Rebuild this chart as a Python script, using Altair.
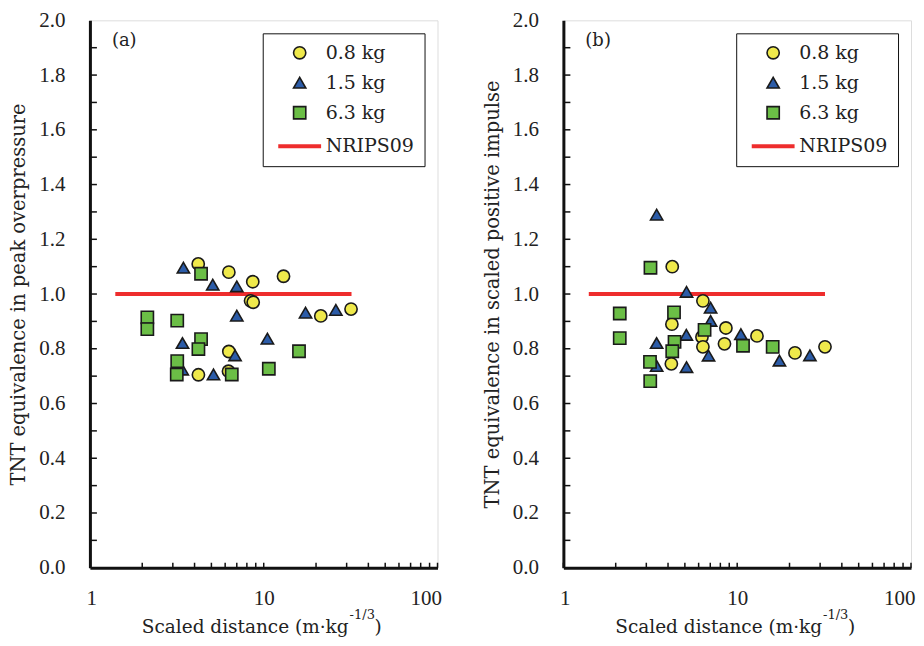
import altair as alt
import pandas as pd

# ---------------- data ----------------
series_names = ["0.8 kg", "1.5 kg", "6.3 kg", "NRIPS09"]

# panel (a): peak overpressure
a_08_x = [4.2, 6.3, 8.65, 13.0, 8.4, 8.7, 21.3, 31.8, 6.3, 4.21, 6.27]
a_08_y = [1.11, 1.08, 1.045, 1.065, 0.975, 0.97, 0.92, 0.945, 0.79, 0.705, 0.718]
a_15_x = [3.45, 5.09, 7.0, 7.0, 17.4, 26.0, 3.41, 10.5, 6.84, 5.14, 3.4]
a_15_y = [1.096, 1.034, 1.028, 0.921, 0.932, 0.942, 0.821, 0.837, 0.776, 0.706, 0.724]
a_63_x = [4.36, 2.14, 2.14, 3.18, 4.36, 4.21, 3.18, 3.16, 6.55, 10.7, 15.96]
a_63_y = [1.074, 0.915, 0.872, 0.903, 0.835, 0.799, 0.755, 0.706, 0.706, 0.727, 0.791]

# panel (b): scaled positive impulse
b_08_x = [4.23, 6.35, 4.21, 8.61, 13.0, 6.27, 6.35, 8.45, 21.5, 32.0, 4.18]
b_08_y = [1.10, 0.975, 0.89, 0.876, 0.847, 0.843, 0.807, 0.818, 0.785, 0.807, 0.745]
b_15_x = [3.44, 5.11, 7.03, 7.03, 5.1, 3.44, 10.5, 6.84, 17.5, 26.2, 5.11, 3.44]
b_15_y = [1.29, 1.008, 0.95, 0.902, 0.851, 0.821, 0.853, 0.775, 0.757, 0.776, 0.733, 0.737]
b_63_x = [3.17, 2.11, 2.11, 4.33, 4.36, 4.23, 6.49, 10.8, 16.0, 3.15, 3.16]
b_63_y = [1.096, 0.929, 0.839, 0.933, 0.825, 0.791, 0.869, 0.811, 0.807, 0.752, 0.682]

# NRIPS09 reference line
nrips_x = [1.4, 32.0]
nrips_y = [1.0, 1.0]

# axis ticks / labels
x_label_values = [1, 10, 100]
x_tick_values = [1, 2, 3, 4, 5, 6, 7, 8, 9, 10, 20, 30, 40, 50, 60, 70, 80, 90, 100]
y_label_values = [0.0, 0.2, 0.4, 0.6, 0.8, 1.0, 1.2, 1.4, 1.6, 1.8, 2.0]
y_tick_values = [0.1, 0.2, 0.3, 0.4, 0.5, 0.6, 0.7, 0.8, 0.9, 1.0,
                 1.1, 1.2, 1.3, 1.4, 1.5, 1.6, 1.7, 1.8, 1.9]

x_title_main = "Scaled distance (m·kg"
x_title_sup = "-1/3"
x_title_end = ")"
y_title_a = "TNT equivalence in peak overpressure"
y_title_b = "TNT equivalence in scaled positive impulse"

# ---------------- style ----------------
W, H = 348, 548
NUM_FONT = "Liberation Serif"
TXT_FONT = "DejaVu Serif"
INK = "#222"
# legend line symbol: a long horizontal stroke (wider than the unit box)
shapes = ["circle", "triangle-up", "square", "M-2,0H2"]
fills = ["#EFE94B", "#2C5CA8", "#6BBE46", "#EE2D2D"]
strokes = ["#1a1a1a", "#1a1a1a", "#1a1a1a", "#EE2D2D"]
sizes = [150, 150, 150, 460]
widths = [1.6, 1.6, 1.6, 4]


def panel(tag, ytitle, x08, y08, x15, y15, x63, y63):
    pts = pd.DataFrame({
        "x": x08 + x15 + x63,
        "y": y08 + y15 + y63,
        "series": [series_names[0]] * len(x08) + [series_names[1]] * len(x15)
                  + [series_names[2]] * len(x63),
    })
    pts["idx"] = range(len(pts))
    line_df = pd.DataFrame({"x": nrips_x, "y": nrips_y, "series": [series_names[3]] * 2})

    xscale = alt.Scale(type="log", domain=[1, 100], nice=False)
    yscale = alt.Scale(domain=[0, 2], nice=False, zero=False)

    xaxis = alt.Axis(values=x_label_values, ticks=False, grid=False, title=None,
                     labelFont=NUM_FONT, labelFontSize=21, labelColor=INK,
                     labelPadding=20, labelFlush=True, labelFlushOffset=4, format="d",
                     domainColor="#111", domainWidth=3)
    yaxis = alt.Axis(values=y_label_values, ticks=False, grid=False, title=ytitle,
                     format=".1f", labelFont=NUM_FONT, labelFontSize=21, labelColor=INK,
                     labelPadding=25, labelFlush=False, labelOverlap=False,
                     titleFont=TXT_FONT, titleFontSize=19.5, titleFontWeight="normal",
                     titleColor=INK, titlePadding=10,
                     domainColor="#111", domainWidth=3)

    legend = alt.Legend(
        title=None, orient="top-right", offset=13, padding=10,
        strokeColor="#111",
        labelFont=TXT_FONT, labelFontSize=19, labelColor=INK, labelOffset=13,
        symbolOffset=14, rowPadding=10,
    )
    shape_sc = alt.Scale(domain=series_names, range=shapes)
    fill_sc = alt.Scale(domain=series_names, range=fills)
    stroke_sc = alt.Scale(domain=series_names, range=strokes)
    size_sc = alt.Scale(type="ordinal", domain=series_names, range=sizes)
    sw_sc = alt.Scale(type="ordinal", domain=series_names, range=widths)

    line = alt.Chart(line_df).mark_line().encode(
        x=alt.X("x:Q", scale=xscale, axis=xaxis),
        y=alt.Y("y:Q", scale=yscale, axis=yaxis),
        stroke=alt.Stroke("series:N", scale=stroke_sc, legend=legend),
        strokeWidth=alt.StrokeWidth("series:N", scale=sw_sc, legend=legend),
    )
    points = alt.Chart(pts).mark_point(filled=True, opacity=1).encode(
        x=alt.X("x:Q", scale=xscale, axis=xaxis),
        y=alt.Y("y:Q", scale=yscale, axis=yaxis),
        shape=alt.Shape("series:N", scale=shape_sc, legend=legend),
        fill=alt.Fill("series:N", scale=fill_sc, legend=legend),
        stroke=alt.Stroke("series:N", scale=stroke_sc, legend=legend),
        size=alt.Size("series:N", scale=size_sc, legend=legend),
        strokeWidth=alt.StrokeWidth("series:N", scale=sw_sc, legend=legend),
        order=alt.Order("idx:Q"),
    )
    xticks = alt.Chart(pd.DataFrame({"t": x_tick_values})).mark_rule(
        color="#111", strokeWidth=1.5).encode(
        x=alt.X("t:Q", scale=xscale, axis=xaxis),
        y=alt.value(H), y2=alt.value(H - 5),
    )
    yticks = alt.Chart(pd.DataFrame({"t": y_tick_values})).mark_rule(
        color="#111", strokeWidth=1.5).encode(
        y=alt.Y("t:Q", scale=yscale, axis=yaxis),
        x=alt.value(0), x2=alt.value(7),
    )
    tag_txt = alt.Chart(pd.DataFrame({"t": [tag]})).mark_text(
        font=TXT_FONT, fontSize=18, align="left", baseline="middle", color=INK).encode(
        text="t:N", x=alt.value(22), y=alt.value(21))
    xt_main = alt.Chart(pd.DataFrame({"t": [x_title_main]})).mark_text(
        font=TXT_FONT, fontSize=18.5, align="right", baseline="alphabetic", color=INK).encode(
        text="t:N", x=alt.value(259), y=alt.value(H + 65))
    xt_sup = alt.Chart(pd.DataFrame({"t": [x_title_sup]})).mark_text(
        font=TXT_FONT, fontSize=13, align="left", baseline="alphabetic", color=INK).encode(
        text="t:N", x=alt.value(260), y=alt.value(H + 51))
    xt_end = alt.Chart(pd.DataFrame({"t": [x_title_end]})).mark_text(
        font=TXT_FONT, fontSize=18.5, align="left", baseline="alphabetic", color=INK).encode(
        text="t:N", x=alt.value(285), y=alt.value(H + 65))

    return alt.layer(line, points, xticks, yticks, tag_txt, xt_main, xt_sup, xt_end).properties(
        width=W, height=H)


pa = panel("(a)", y_title_a, a_08_x, a_08_y, a_15_x, a_15_y, a_63_x, a_63_y)
pb = panel("(b)", y_title_b, b_08_x, b_08_y, b_15_x, b_15_y, b_63_x, b_63_y)

chart = alt.hconcat(pa, pb, spacing=126, bounds="flush", padding=0).resolve_scale(
    shape="independent", fill="independent", stroke="independent",
    size="independent", strokeWidth="independent"
).resolve_legend(
    shape="independent", fill="independent", stroke="independent",
    size="independent", strokeWidth="independent"
).configure_view(stroke="#111", strokeWidth=2).configure(background="white")

chart.save("out.html", embed_options={"renderer": "svg", "actions": False})
